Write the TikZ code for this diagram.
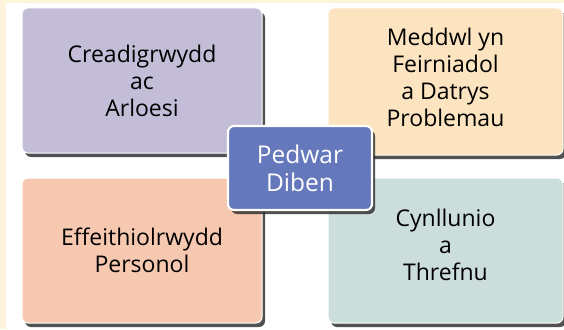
\documentclass[tikz,border=0pt]{standalone}
\usepackage{fontspec}
\setmainfont{Open Sans}
\usetikzlibrary{shadows}
\definecolor{creambg}{HTML}{FEF4DC}
\definecolor{cpurple}{HTML}{C4BDD8}
\definecolor{cpeach}{HTML}{FDE4C0}
\definecolor{csalmon}{HTML}{F7C8B0}
\definecolor{cteal}{HTML}{CCDEDC}
\definecolor{cblue}{HTML}{6478BB}
\begin{document}
\begin{tikzpicture}[x=1pt,y=1pt,
  card/.style={draw=white, line width=1pt, rounded corners=6pt, align=center,
    inner sep=0pt, font=\fontsize{23}{27}\selectfont, text=black,
    drop shadow={shadow xshift=3pt, shadow yshift=-4pt, fill=black!80, opacity=0.85}},
  hub/.style={card, draw=white, line width=2.2pt, fill=cblue, text=white,
    font=\fontsize{24.5}{28}\selectfont,
    minimum width=144pt, minimum height=84pt}
]
\fill[creambg] (0,0) rectangle (564,-329);
\fill[white] (6,-3) rectangle (564,-329);
\useasboundingbox (0,0) rectangle (564,-329);
\node[card, fill=cpurple, minimum width=240pt, minimum height=145pt] (cre) at (142,-80.5) {Creadigrwydd\\ac\\Arloesi};
\node[card, fill=cpeach, minimum width=235pt, minimum height=147pt] (med) at (445.5,-81.5) {Meddwl yn\\Feirniadol\\a Datrys\\Problemau\\[-18pt]};
\node[card, fill=csalmon, minimum width=240pt, minimum height=145pt] (eff) at (142,-250.5) {Effeithiolrwydd\\Personol};
\node[card, fill=cteal, minimum width=235pt, minimum height=145pt] (cyn) at (445.5,-250.5) {Cynllunio\\a\\Threfnu\\[-16pt]};
\node[hub] (ped) at (300,-168) {Pedwar\\Diben};
\end{tikzpicture}
\end{document}
